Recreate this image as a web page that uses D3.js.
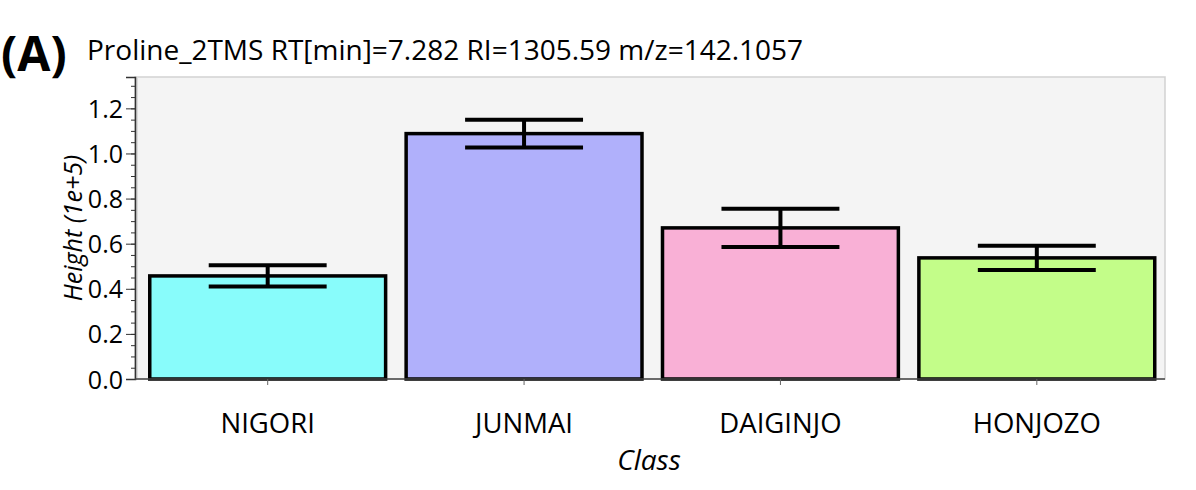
<!DOCTYPE html>
<html lang="en">
<head>
  <meta charset="UTF-8">
  <title>Proline_2TMS bar chart</title>
  <script src="https://d3js.org/d3.v7.min.js"></script>
  <style>
    body { margin: 0; background: #fff; }
    text { font-family: "Open Sans", sans-serif; fill: #000; }
  </style>
</head>
<body>
  <div id="chart"></div>
  <script>

  // values (height in units of 1e+5)
  const classes = ["NIGORI", "JUNMAI", "DAIGINJO", "HONJOZO"];
  const means = [0.457, 1.088, 0.670, 0.537];
  const errors = [0.047, 0.062, 0.085, 0.054];
  const fills = ["#88fcfb", "#b0b0fb", "#f9b0d6", "#c3fd89"];
  const yTicks = [0.0, 0.2, 0.4, 0.6, 0.8, 1.0, 1.2];

  const width = 1196;
  const height = 490;
  const frame = {left: 135, right: 1165, top: 77, bottom: 379};

  const svg = d3.select("#chart")
    .append("svg")
      .attr("width", width)
      .attr("height", height);

  // scales
  const x = d3.scaleBand()
    .domain(classes)
    .range([139.5, frame.right])
    .paddingInner(0.08)
    .paddingOuter(0.04);

  const y = d3.scaleLinear()
    .domain([0, 1.339])
    .range([frame.bottom, frame.top]);

  // plot background
  svg.append("rect")
    .attr("x", frame.left)
    .attr("y", frame.top)
    .attr("width", frame.right - frame.left)
    .attr("height", frame.bottom - frame.top)
    .style("fill", "#f4f4f4")
    .style("stroke", "#d2d2d2")
    .style("stroke-width", 1.5);

  svg.append("rect")
    .attr("x", frame.left)
    .attr("y", frame.top)
    .attr("width", 3)
    .attr("height", frame.bottom - frame.top)
    .style("fill", "#dcdcdc");

  // bars
  svg.append("g")
    .selectAll("rect")
    .data(classes)
    .enter()
    .append("rect")
      .attr("x", d => x(d))
      .attr("y", (d, i) => y(means[i]))
      .attr("width", x.bandwidth())
      .attr("height", (d, i) => y(0) - y(means[i]))
      .style("fill", (d, i) => fills[i])
      .style("stroke", "#000")
      .style("stroke-width", 3.5);

  // error bars
  const capHalf = x.bandwidth() * 0.25;
  const err = svg.append("g")
    .selectAll("g")
    .data(classes)
    .enter()
    .append("g")
      .style("stroke", "#000")
      .style("stroke-width", 4);

  err.append("line")
    .attr("x1", d => x(d) + x.bandwidth() / 2)
    .attr("x2", d => x(d) + x.bandwidth() / 2)
    .attr("y1", (d, i) => y(means[i] + errors[i]))
    .attr("y2", (d, i) => y(means[i] - errors[i]));

  err.append("line")
    .attr("x1", d => x(d) + x.bandwidth() / 2 - capHalf)
    .attr("x2", d => x(d) + x.bandwidth() / 2 + capHalf)
    .attr("y1", (d, i) => y(means[i] + errors[i]))
    .attr("y2", (d, i) => y(means[i] + errors[i]));

  err.append("line")
    .attr("x1", d => x(d) + x.bandwidth() / 2 - capHalf)
    .attr("x2", d => x(d) + x.bandwidth() / 2 + capHalf)
    .attr("y1", (d, i) => y(means[i] - errors[i]))
    .attr("y2", (d, i) => y(means[i] - errors[i]));

  // y axis: minor ticks then major ticks with labels
  const yMinor = svg.append("g")
    .attr("transform", "translate(" + frame.left + ",0)")
    .call(d3.axisLeft(y).tickValues(d3.range(0, 1.31, 0.05)).tickSize(4).tickFormat(""));
  yMinor.select(".domain").remove();
  yMinor.selectAll("line").style("stroke", "#333");

  const yAxis = svg.append("g")
    .attr("transform", "translate(" + frame.left + ",0)")
    .call(d3.axisLeft(y).tickValues(yTicks).tickSize(9).tickPadding(3).tickFormat(d3.format(".1f")));
  yAxis.select(".domain").style("stroke", "#333").style("stroke-width", 1.5);
  yAxis.selectAll("line").style("stroke", "#333");
  yAxis.selectAll("text")
    .style("font-family", "Open Sans")
    .style("font-size", "25px")
    .attr("dy", "0.36em");

  // x axis
  const xAxis = svg.append("g")
    .attr("transform", "translate(0," + frame.bottom + ")")
    .call(d3.axisBottom(x).tickSize(6).tickPadding(28));
  xAxis.select(".domain")
    .attr("d", "M" + frame.left + ",0H" + frame.right)
    .style("stroke", "#444")
    .style("stroke-width", 1.5);
  xAxis.selectAll("line").style("stroke", "#666");
  xAxis.selectAll("text")
    .style("font-family", "Open Sans")
    .style("font-size", "27.5px");

  // axis titles
  svg.append("text")
    .attr("transform", "translate(82," + ((frame.top + frame.bottom) / 2) + ") rotate(-90)")
    .attr("text-anchor", "middle")
    .style("font-size", "25px")
    .style("font-style", "italic")
    .text("Height (1e+5)");

  svg.append("text")
    .attr("x", 649)
    .attr("y", 470)
    .attr("text-anchor", "middle")
    .style("font-size", "28px")
    .style("font-style", "italic")
    .text("Class");

  // panel letter and title
  svg.append("text")
    .attr("x", 1)
    .attr("y", 71)
    .style("font-size", "48px")
    .style("font-weight", "bold")
    .text("(A)");

  svg.append("text")
    .attr("x", 87)
    .attr("y", 60)
    .style("font-size", "28px")
    .text("Proline_2TMS RT[min]=7.282 RI=1305.59 m/z=142.1057");

  </script>
</body>
</html>
